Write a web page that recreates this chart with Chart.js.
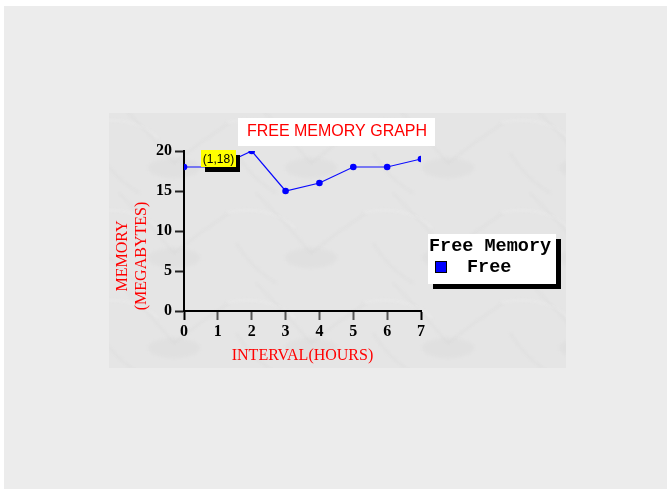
<!DOCTYPE html>
<html>
<head>
<meta charset="utf-8">
<script src="https://cdn.jsdelivr.net/npm/chart.js@4"></script>
<style>
  html, body { margin: 0; padding: 0; background: #ffffff; }
  #wrap { position: relative; width: 671px; height: 493px; }
</style>
</head>
<body>
<div id="wrap"><canvas id="chart" width="671" height="493"></canvas></div>
<script>
// Sampling interval (hours) and free memory (MB) at each interval
const hours = [0, 1, 2, 3, 4, 5, 6, 7];
const freeMemory = [18, 18, 20, 15, 16, 18, 18, 19];

const chartTitle = 'FREE MEMORY GRAPH';
const seriesName = 'Free';
const legendTitle = 'Free Memory';
const xTitle = 'INTERVAL(HOURS)';
const yTitle = ['MEMORY', '(MEGABYTES)'];
const calloutIndex = 1;

// Faint marbled veins for the chart panel, repeated across it
function drawVeins(ctx, x0, y0, w, h) {
  ctx.save();
  ctx.beginPath();
  ctx.rect(x0, y0, w, h);
  ctx.clip();
  ctx.filter = 'blur(1.5px)';
  const tileW = 137, tileH = 90;
  for (let ty = y0 - 20; ty < y0 + h; ty += tileH) {
    for (let tx = x0 - 30; tx < x0 + w; tx += tileW) {
      ctx.fillStyle = 'rgba(205,205,205,0.18)';
      ctx.beginPath();
      ctx.ellipse(tx + 95, ty + 75, 26, 10, 0, 0, Math.PI * 2);
      ctx.fill();
      ctx.strokeStyle = 'rgba(195,195,195,0.35)';
      ctx.lineWidth = 1;
      ctx.beginPath();
      ctx.moveTo(tx + 40, ty + 10);
      ctx.quadraticCurveTo(tx + 70, ty + 40, tx + 95, ty + 70);
      ctx.moveTo(tx + 95, ty + 70);
      ctx.quadraticCurveTo(tx + 120, ty + 50, tx + 150, ty + 30);
      ctx.moveTo(tx + 20, ty + 60);
      ctx.quadraticCurveTo(tx + 35, ty + 85, tx + 60, ty + 100);
      ctx.stroke();
      ctx.strokeStyle = 'rgba(245,245,245,0.6)';
      ctx.beginPath();
      ctx.moveTo(tx + 10, ty + 30);
      ctx.quadraticCurveTo(tx + 50, ty + 20, tx + 80, ty + 45);
      ctx.stroke();
    }
  }
  ctx.restore();
}

// Page backdrop, textured chart panel, title box and y axis title
const backdrop = {
  id: 'backdrop',
  beforeDraw(chart) {
    const ctx = chart.ctx;
    ctx.save();
    ctx.fillStyle = '#ffffff';
    ctx.fillRect(0, 0, chart.width, chart.height);
    ctx.fillStyle = '#ececec';
    ctx.fillRect(4, 6, 663, 483);
    ctx.fillStyle = '#e5e5e5';
    ctx.fillRect(109, 113, 457, 255);
    drawVeins(ctx, 109, 113, 457, 255);
    // title box
    ctx.fillStyle = '#ffffff';
    ctx.fillRect(238, 118, 197, 28);
    ctx.fillStyle = '#ff0000';
    ctx.font = '16px "Liberation Sans", Arial, sans-serif';
    ctx.textAlign = 'center';
    ctx.textBaseline = 'middle';
    ctx.fillText(chartTitle, 337, 132);
    // y axis title, two stacked rotated lines
    ctx.font = '16px "Liberation Serif", "Times New Roman", serif';
    ctx.translate(0, 256);
    ctx.rotate(-Math.PI / 2);
    ctx.fillText(yTitle[0], 0, 123);
    ctx.fillText(yTitle[1], 0, 142);
    ctx.restore();
  }
};

// Value callout and boxed legend
const overlays = {
  id: 'overlays',
  afterDatasetsDraw(chart) {
    const ctx = chart.ctx;
    const xs = chart.scales.x, ys = chart.scales.y;
    const px = xs.getPixelForValue(hours[calloutIndex]);
    const py = ys.getPixelForValue(freeMemory[calloutIndex]);
    const text = '(' + hours[calloutIndex] + ',' + freeMemory[calloutIndex] + ')';
    ctx.save();
    ctx.font = '12px "Liberation Sans", Arial, sans-serif';
    const w = 35, h = 17;
    const bx = Math.round(px - w / 2 + 1), by = Math.round(py - h);
    ctx.fillStyle = '#000000';
    ctx.fillRect(bx + 4, by + 5, w, h);
    ctx.fillStyle = '#ffff00';
    ctx.fillRect(bx, by, w, h);
    ctx.fillStyle = '#000000';
    ctx.textAlign = 'center';
    ctx.textBaseline = 'middle';
    ctx.fillText(text, bx + w / 2, by + h / 2 + 1);

    // legend
    const lx = 428, ly = 234, lw = 128, lh = 50;
    ctx.fillStyle = '#000000';
    ctx.fillRect(lx + 5, ly + 5, lw, lh);
    ctx.fillStyle = '#ffffff';
    ctx.fillRect(lx, ly, lw, lh);
    ctx.fillStyle = '#000000';
    ctx.font = 'bold 18.5px "Liberation Mono", "Courier New", monospace';
    ctx.textAlign = 'left';
    ctx.textBaseline = 'alphabetic';
    ctx.fillText(legendTitle, lx + 1, ly + 17);
    ctx.fillText(chart.data.datasets[0].label, lx + 39, ly + 38);
    ctx.fillStyle = '#000000';
    ctx.fillRect(lx + 7, ly + 27, 12, 12);
    ctx.fillStyle = '#0000ff';
    ctx.fillRect(lx + 8, ly + 28, 10, 10);
    ctx.restore();
  }
};

const tickFont = { family: '"Liberation Serif", "Times New Roman", serif', size: 16, weight: 'bold' };

new Chart(document.getElementById('chart'), {
  type: 'line',
  data: {
    labels: hours,
    datasets: [{
      label: seriesName,
      data: hours.map((h, i) => ({ x: h, y: freeMemory[i] })),
      borderColor: '#0a0aff',
      backgroundColor: '#0000ff',
      borderWidth: 1.2,
      pointRadius: 3.3,
      pointBorderWidth: 0,
      pointBackgroundColor: '#0000ff',
      tension: 0
    }]
  },
  options: {
    responsive: false,
    animation: false,
    events: [],
    layout: { padding: { left: 0, right: 250, top: 151, bottom: 122 } },
    plugins: { legend: { display: false }, title: { display: false }, tooltip: { enabled: false } },
    scales: {
      x: {
        type: 'linear',
        min: 0, max: 7,
        ticks: { stepSize: 1, color: '#000000', font: tickFont, padding: 2, maxRotation: 0 },
        grid: {
          drawOnChartArea: false,
          tickLength: 9,
          tickWidth: 2,
          tickColor: (c) => (c.index === 0 || c.index === 7) ? '#000000' : '#555555'
        },
        border: { display: true, color: '#000000', width: 2 },
        title: {
          display: true, text: xTitle, color: '#ff0000',
          font: { family: '"Liberation Serif", "Times New Roman", serif', size: 16 },
          padding: { top: 0, bottom: 6 }
        },
        afterFit(scale) { scale.height = 60; }
      },
      y: {
        min: 0, max: 20,
        ticks: { stepSize: 5, color: '#000000', font: tickFont, padding: 3 },
        grid: { drawOnChartArea: false, tickLength: 9, tickWidth: 2, tickColor: '#222222' },
        border: { display: true, color: '#000000', width: 2 },
        afterFit(scale) { scale.width = 184; }
      }
    }
  },
  plugins: [backdrop, overlays]
});
</script>
</body>
</html>
